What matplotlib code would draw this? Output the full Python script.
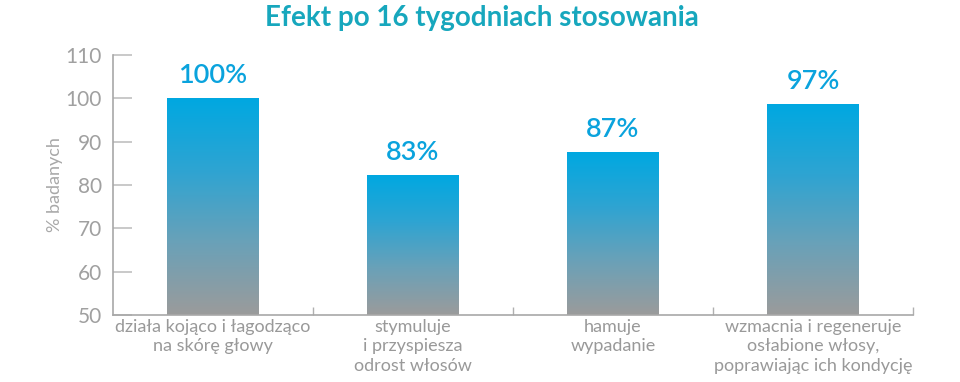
import numpy as np
import matplotlib
matplotlib.use('Agg')
import matplotlib.pyplot as plt
from matplotlib.colors import LinearSegmentedColormap

# dane z wykresu
kategorie = ['działa kojąco i łagodząco\nna skórę głowy',
             'stymuluje\ni przyspiesza\nodrost włosów',
             'hamuje\nwypadanie',
             'wzmacnia i regeneruje\nosłabione włosy,\npoprawiając ich kondycję']
wartosci = [100, 82.3, 87.6, 98.6]
etykiety = ['100%', '83%', '87%', '97%']

plt.rcParams['font.family'] = ['Lato', 'DejaVu Sans']

szary = '#9b9b9b'
niebieski = '#00a8e1'
cmap = LinearSegmentedColormap.from_list('grad', [szary, '#6aa1b8', '#2ea4d2', niebieski])

fig = plt.figure(figsize=(9.6, 3.82), dpi=100)
ax = fig.add_axes([113 / 960, 67 / 382, 800 / 960, 260 / 382])

x = np.arange(len(wartosci))
bary = ax.bar(x, np.array(wartosci) - 50, bottom=50, width=0.46, color='none', edgecolor='none')

grad = np.linspace(0, 1, 256).reshape(-1, 1)
for b, v in zip(bary, wartosci):
    x0 = b.get_x()
    im = ax.imshow(grad, cmap=cmap, origin='lower', aspect='auto',
                   extent=[x0, x0 + b.get_width(), 50, v], zorder=2)
    im.set_clip_path(b)

for xi, v, lab in zip(x, wartosci, etykiety):
    ax.text(xi, v + 5.3, lab, ha='center', va='center', fontsize=19.5,
            color='#0aa3dd', fontweight='semibold')

ax.set_xlim(-0.5, 3.5)
ax.set_ylim(50, 110)
ax.set_yticks(range(50, 111, 10))
ax.tick_params(axis='y', direction='in', length=14, width=1.2, color='#c0c0c0',
               labelsize=15, labelcolor='#a0a0a0', pad=8)
ax.set_xticks(x)
ax.set_xticklabels(kategorie, fontsize=13, color='#999999', linespacing=1.25)
ax.tick_params(axis='x', length=0, pad=3)
ax.set_xticks(np.arange(0.5, 4, 1), minor=True)
ax.tick_params(axis='x', which='minor', direction='in', length=6, width=1, color='#b0b0b0')

for s in ['top', 'right']:
    ax.spines[s].set_visible(False)
for s in ['left', 'bottom']:
    ax.spines[s].set_color('#a8a8a8')
    ax.spines[s].set_linewidth(1.2)

ax.set_ylabel('% badanych', fontsize=13, color='#a8a8a8')
ax.yaxis.set_label_coords(-0.063, 0.5)

fig.text(482 / 960, 1 - 18 / 382, 'Efekt po 16 tygodniach stosowania', ha='center', va='center',
         fontsize=20, fontweight='bold', color='#17a7bd')

plt.savefig('out.png', dpi=100)
